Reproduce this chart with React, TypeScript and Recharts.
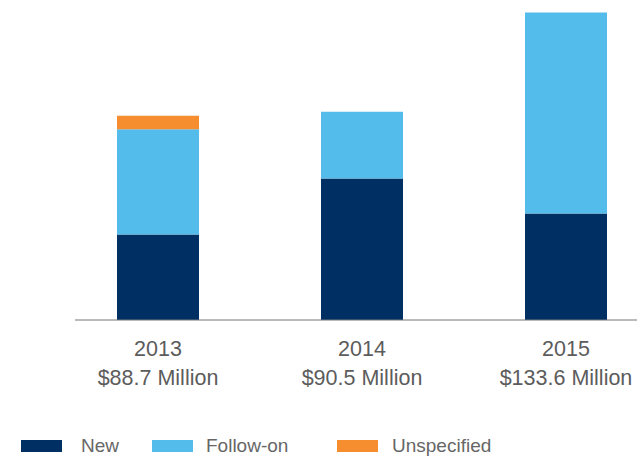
import { BarChart, Bar, XAxis, YAxis } from "recharts";

const years = ["2013", "2014", "2015"];
const totals = ["$88.7 Million", "$90.5 Million", "$133.6 Million"];
const newValues = [37.1, 61.5, 46.3];
const followOnValues = [45.8, 29.0, 87.3];
const unspecifiedValues = [5.8, 0, 0];

const series = [
  { key: "new", name: "New", color: "#003063" },
  { key: "followOn", name: "Follow-on", color: "#54BCEB" },
  { key: "unspecified", name: "Unspecified", color: "#F68D2E" },
];

const data = years.map((year, i) => ({
  year,
  total: totals[i],
  new: newValues[i],
  followOn: followOnValues[i],
  unspecified: unspecifiedValues[i],
}));

const FONT = '"Liberation Sans", Arial, sans-serif';

function YearTick(props: any) {
  const { x, y, payload, index } = props;
  return (
    <text
      x={x}
      y={y}
      textAnchor="middle"
      fill="#5c5c5c"
      fontSize={21.5}
      fontFamily={FONT}
    >
      <tspan x={x} dy={28}>
        {payload.value}
      </tspan>
      <tspan x={x} dy={29}>
        {totals[index]}
      </tspan>
    </text>
  );
}

// legend item offsets
const legendLeft = [21, 152, 337];
const legendTextGap = [19, 13, 14];

export default function App() {
  return (
    <div
      style={{
        position: "absolute",
        left: 0,
        top: 0,
        width: 637,
        height: 457,
        overflow: "hidden",
        background: "#fff",
      }}
    >
      <BarChart
        width={700}
        height={420}
        data={data}
        margin={{ top: 10, right: 32, left: 75, bottom: 0 }}
      >
        <XAxis
          dataKey="year"
          height={100}
          tickLine={false}
          axisLine={{ stroke: "#777777", strokeWidth: 1 }}
          padding={{ left: -19, right: 0 }}
          tick={<YearTick />}
          interval={0}
        />
        <YAxis hide domain={[0, 134.7]} />
        {series.map((s) => (
          <Bar
            key={s.key}
            dataKey={s.key}
            name={s.name}
            stackId="a"
            fill={s.color}
            barSize={82}
            isAnimationActive={false}
          />
        ))}
      </BarChart>
      {series.map((s, i) => (
        <div
          key={s.key}
          style={{
            position: "absolute",
            left: legendLeft[i],
            top: 434,
            display: "flex",
            alignItems: "center",
            height: 24,
            fontFamily: FONT,
            fontSize: 19,
            color: "#666666",
          }}
        >
          <span
            style={{
              display: "inline-block",
              width: 41,
              height: 12,
              background: s.color,
              marginRight: legendTextGap[i],
            }}
          />
          <span>{s.name}</span>
        </div>
      ))}
    </div>
  );
}
